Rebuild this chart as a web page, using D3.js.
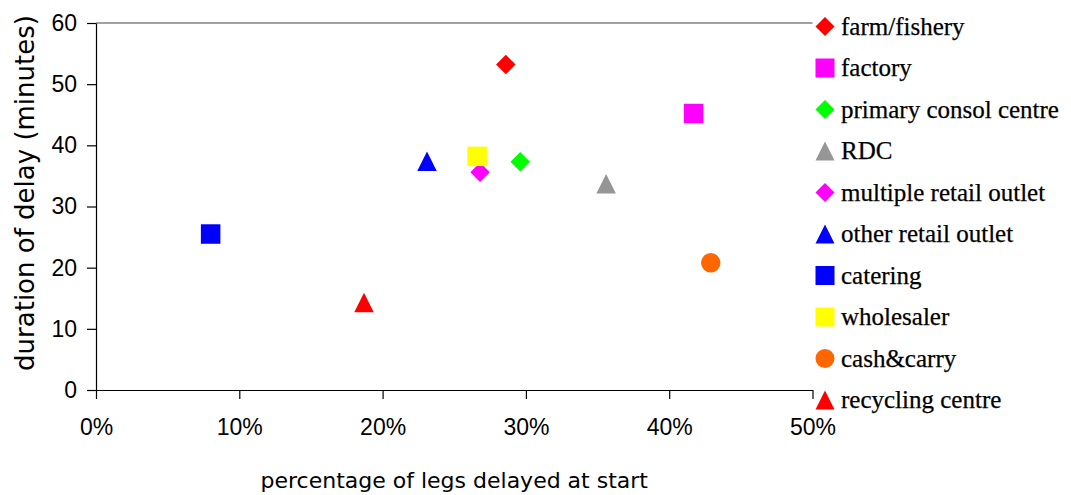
<!DOCTYPE html>
<html>
<head>
<meta charset="utf-8">
<script src="https://cdn.jsdelivr.net/npm/d3@7"></script>
<style>
  html, body { margin: 0; padding: 0; background: #fff; }
  svg { display: block; }
</style>
</head>
<body>
<svg id="chart" width="1071" height="495"></svg>
<script>
// Origin types of delivery legs
const categories = [
  "farm/fishery", "factory", "primary consol centre", "RDC",
  "multiple retail outlet", "other retail outlet", "catering",
  "wholesaler", "cash&carry", "recycling centre"
];
// Share of legs delayed at start (fraction)
const pctDelayed = [0.286, 0.417, 0.296, 0.356, 0.268, 0.231, 0.080, 0.266, 0.429, 0.187];
// Mean duration of the delay (minutes)
const delayMinutes = [53.2, 45.2, 37.3, 33.7, 35.6, 37.4, 25.5, 38.2, 20.8, 14.3];
const markerShapes = ["diamond", "square", "diamond", "triangle", "diamond",
                      "triangle", "square", "square", "circle", "triangle"];
const markerColors = ["#ff0000", "#ff00ff", "#00ff00", "#969696", "#ff00ff",
                      "#0000ff", "#0000ff", "#ffff00", "#ff6600", "#ff0000"];
const xTicks = [0, 0.1, 0.2, 0.3, 0.4, 0.5];
const yTicks = [0, 10, 20, 30, 40, 50, 60];

const svg = d3.select("#chart");
const plot = { left: 96, right: 812.5, top: 23, bottom: 390 };

const x = d3.scaleLinear().domain([0, 0.5]).range([plot.left, plot.right]);
const y = d3.scaleLinear().domain([0, 60]).range([plot.bottom, plot.top]);

// Marker path generator centred on (0,0)
function markerPath(shape, s) {
  const h = s / 2;
  const p = d3.path();
  if (shape === "diamond") {
    p.moveTo(0, -h); p.lineTo(h, 0); p.lineTo(0, h); p.lineTo(-h, 0); p.closePath();
  } else if (shape === "square") {
    p.rect(-h, -h, s, s);
  } else if (shape === "triangle") {
    p.moveTo(0, -h); p.lineTo(h, h); p.lineTo(-h, h); p.closePath();
  } else {
    p.arc(0, 0, h, 0, 2 * Math.PI);
  }
  return p.toString();
}

// top border of the plot area
svg.append("line")
  .attr("x1", plot.left).attr("x2", plot.right)
  .attr("y1", plot.top).attr("y2", plot.top)
  .attr("stroke", "#808080").attr("stroke-width", 1.5);

// y axis
const yAxis = svg.append("g")
  .attr("transform", `translate(${plot.left},0)`)
  .call(d3.axisLeft(y).tickValues(yTicks).tickSize(9).tickPadding(10).tickSizeOuter(0));
yAxis.select(".domain").attr("stroke", "#000").attr("stroke-width", 1.2);
yAxis.selectAll(".tick line").attr("stroke", "#000").attr("stroke-width", 1.2);
yAxis.selectAll("text")
  .attr("font-family", "'Liberation Sans', Arial, sans-serif")
  .attr("font-size", 23).attr("fill", "#000");

// x axis
const xAxis = svg.append("g")
  .attr("transform", `translate(0,${plot.bottom})`)
  .call(d3.axisBottom(x).tickValues(xTicks).tickSize(9).tickPadding(20)
    .tickSizeOuter(0).tickFormat(d3.format(".0%")));
xAxis.select(".domain").attr("stroke", "#000").attr("stroke-width", 1.2);
xAxis.selectAll(".tick line").attr("stroke", "#000").attr("stroke-width", 1.2);
xAxis.selectAll("text")
  .attr("font-family", "'Liberation Sans', Arial, sans-serif")
  .attr("font-size", 23).attr("fill", "#000");

// axis titles
svg.append("text")
  .attr("x", (plot.left + plot.right) / 2).attr("y", 488)
  .attr("text-anchor", "middle")
  .attr("font-family", "'DejaVu Sans', Verdana, sans-serif")
  .attr("font-size", 22).attr("fill", "#000")
  .text("percentage of legs delayed at start");

svg.append("text")
  .attr("transform", `translate(34,${(plot.top + 375) / 2 - 6}) rotate(-90)`)
  .attr("text-anchor", "middle")
  .attr("font-family", "'DejaVu Sans', Verdana, sans-serif")
  .attr("font-size", 26).attr("fill", "#000")
  .text("duration of delay (minutes)");

// data points
svg.append("g")
  .selectAll("path")
  .data(categories.map((c, i) => ({ c, i })))
  .join("path")
  .attr("transform", d => `translate(${x(pctDelayed[d.i])},${y(delayMinutes[d.i])})`)
  .attr("d", d => markerPath(markerShapes[d.i], 19.5))
  .attr("fill", d => markerColors[d.i]);

// legend
const legend = svg.append("g");
const rowY = d3.scalePoint().domain(categories).range([26.5, 400]);
const rows = legend.selectAll("g")
  .data(categories.map((c, i) => ({ c, i })))
  .join("g")
  .attr("transform", d => `translate(825,${rowY(d.c)})`);
rows.append("path")
  .attr("d", d => markerPath(markerShapes[d.i], 19))
  .attr("fill", d => markerColors[d.i]);
rows.append("text")
  .attr("x", 16).attr("y", 8)
  .attr("font-family", "'Liberation Serif', 'Times New Roman', serif")
  .attr("font-size", 25).attr("fill", "#000")
  .attr("stroke", "#000").attr("stroke-width", 0.25)
  .text(d => d.c);
</script>
</body>
</html>
